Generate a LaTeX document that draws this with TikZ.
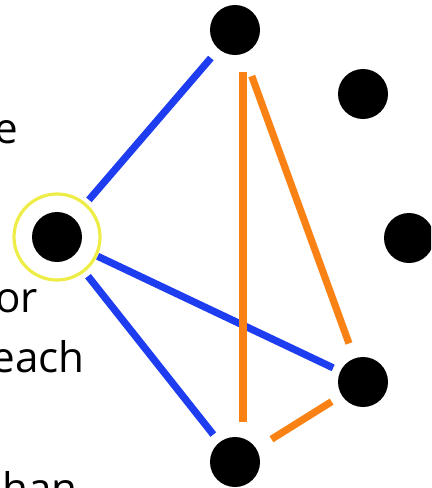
\documentclass[tikz,border=0pt]{standalone}
\usepackage{fontspec}
\setmainfont{Open Sans}
\definecolor{edgeblue}{RGB}{30,60,240}
\definecolor{edgeorange}{RGB}{250,130,20}
\definecolor{ringyellow}{RGB}{238,236,70}
\begin{document}
\begin{tikzpicture}[
  x=0.25mm, y=-0.25mm,
  vertex/.style={circle, fill=black, minimum size=12.5mm, inner sep=0pt, outer sep=0pt},
  ring/.style={circle, draw=ringyellow, line width=0.8mm, minimum size=21.5mm, inner sep=0pt},
  word/.style={anchor=base east, inner sep=0pt, font=\fontsize{30}{36}\selectfont},
  blueedge/.style={edgeblue, line width=1.8mm},
  orangeedge/.style={edgeorange, line width=1.8mm}
]
  \useasboundingbox (0,0) rectangle (431,488);
  \clip (0,0) rectangle (431,488);

  % words cut at the left edge
  \node[word] (w1) at (18,143) {e};
  \node[word] (w2) at (38,312) {or};
  \node[word] (w3) at (85,372) {each};
  \node[word] (w4) at (78,503) {han};

  \node[ring] (hl) at (57,237) {};
  \node[vertex] (vl)  at (57,237) {};
  \node[vertex] (vt)  at (235,30) {};
  \node[vertex] (vur) at (363,94) {};
  \node[vertex] (vrm) at (409,238) {};
  \node[vertex] (vlr) at (363,382) {};
  \node[vertex] (vb)  at (235,462) {};

  \draw[blueedge, shorten <=6mm, shorten >=3mm] (vl) -- (vt);
  \draw[blueedge, shorten <=5mm, shorten >=2mm] (vl) -- (vlr);
  \draw[blueedge, shorten <=6.25mm, shorten >=2.5mm] (vl) -- (vb);

  \draw[orangeedge, shorten <=10.5mm, shorten >=10mm] ([xshift=2mm]vt.center) -- ([xshift=2mm]vb.center);
  \draw[orangeedge, shorten <=6mm, shorten >=4mm] (vt) -- (vlr);
  \draw[orangeedge, shorten <=4.5mm, shorten >=3mm] (vb) -- (vlr);
\end{tikzpicture}
\end{document}
